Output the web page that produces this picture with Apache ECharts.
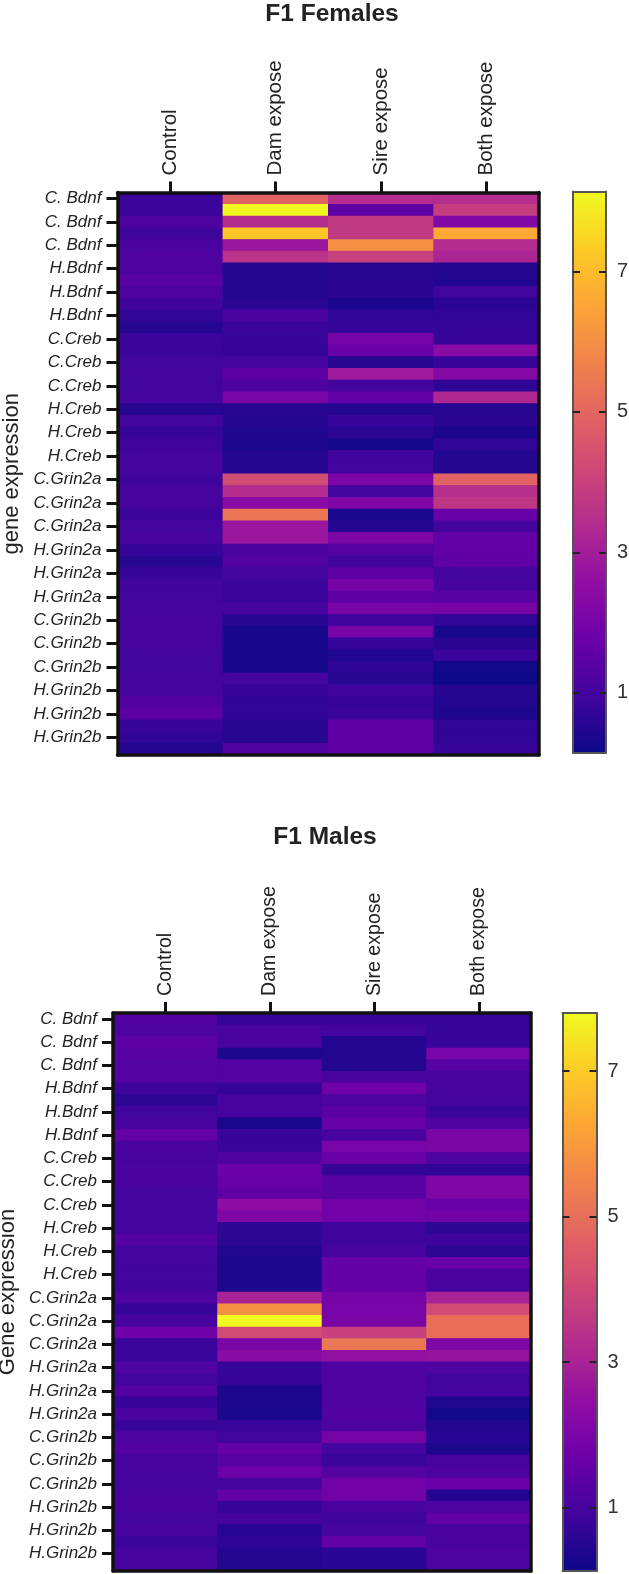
<!DOCTYPE html>
<html><head><meta charset="utf-8">
<style>html,body{margin:0;padding:0;background:#fff}#c{width:629px;height:1574px;filter:blur(0.6px)}</style>
<script src="https://cdn.jsdelivr.net/npm/echarts@6/dist/echarts.min.js"></script>
</head><body><div id="c"></div>
<script>
const groups = ['Control','Dam expose','Sire expose','Both expose'];
const genes = [
 'C. Bdnf','C. Bdnf','C. Bdnf','C. Bdnf','C. Bdnf','C. Bdnf',
 'H.Bdnf','H.Bdnf','H.Bdnf','H.Bdnf','H.Bdnf','H.Bdnf',
 'C.Creb','C.Creb','C.Creb','C.Creb','C.Creb','C.Creb',
 'H.Creb','H.Creb','H.Creb','H.Creb','H.Creb','H.Creb',
 'C.Grin2a','C.Grin2a','C.Grin2a','C.Grin2a','C.Grin2a','C.Grin2a',
 'H.Grin2a','H.Grin2a','H.Grin2a','H.Grin2a','H.Grin2a','H.Grin2a',
 'C.Grin2b','C.Grin2b','C.Grin2b','C.Grin2b','C.Grin2b','C.Grin2b',
 'H.Grin2b','H.Grin2b','H.Grin2b','H.Grin2b','H.Grin2b','H.Grin2b'];
const colorbarTicks = [1,3,5,7];
const femaleRange = [0.15,8.14];
const maleRange = [0.13,7.8];
const plasma = ['#0d0887','#41049d','#6a00a8','#8f0da4','#b12a90','#cc4778','#e16462','#f1844b','#fca636','#fccd25','#f0f921'];

const femaleControl = [.85,.85,1.2,.9,1.15,1.2,1.2,1.4,1.2,.95,.7,.55,.85,.85,.95,1.0,.95,1.0,.55,.95,.8,.9,1.0,1.0,
 .9,1.05,1.05,.85,1.0,1.05,.8,.55,.8,.95,.95,1.0,1.05,1.05,1.05,.95,.95,1.0,1.0,1.3,1.45,.8,.7,.5];
const femaleDam = [4.9,8.1,3.4,7.2,2.8,3.6,.45,.45,.5,.6,1.15,.85,.8,.75,1.0,1.5,1.2,2.05,.55,.5,.45,.4,.5,.5,
 4.3,3.4,2.4,5.4,2.8,2.8,1.1,1.3,1.0,.85,.85,1.05,.55,.3,.3,.3,.3,1.0,.75,.7,.7,.55,.55,1.25];
const femaleSire = [3.4,1.55,3.8,3.8,6.0,4.0,.55,.6,.6,.35,.7,.75,2.0,1.7,.55,2.9,1.0,1.6,.5,.8,.6,.25,.95,.95,
 2.15,.95,2.2,.35,.5,2.1,1.35,.95,1.5,2.0,1.5,2.0,.9,2.0,.75,.45,.65,.55,.9,.75,.85,1.55,1.55,1.55];
const femaleBoth = [3.4,3.9,2.25,6.6,3.4,3.2,.45,.45,.95,.6,.7,.75,.75,2.4,.8,2.3,.65,3.3,.55,.6,.35,.7,.5,.5,
 4.9,3.5,3.7,1.7,1.0,1.6,1.6,1.55,1.0,1.05,1.4,2.0,.7,.3,.6,.85,.2,.15,.5,.45,.4,.7,.7,.8];

const maleControl = [1.2,1.1,1.4,1.35,1.25,1.25,.85,.6,.9,1.0,1.55,1.05,1.0,1.05,1.05,.95,.95,.95,.95,1.25,.95,.9,.9,.9,
 1.1,.7,1.0,1.75,.8,.8,1.15,.9,1.2,.75,1.05,.75,1.1,1.2,1.0,1.0,.95,1.05,1.05,.95,1.0,.8,1.0,1.0];
const maleDam = [.7,1.05,1.05,.35,1.25,1.25,.7,1.0,1.0,.3,.75,.8,1.15,1.7,1.6,1.45,2.4,2.1,.6,.6,.45,.35,.35,.35,
 3.0,5.8,7.8,4.1,2.0,2.3,.75,.75,.35,.35,.3,.8,.9,1.55,1.3,1.7,.95,1.5,.7,1.0,.5,.65,.45,.45];
const maleSire = [.7,.95,.45,.45,.45,1.0,1.75,1.1,1.4,1.6,1.05,1.95,1.65,.7,1.35,1.35,1.8,1.8,.85,.85,1.0,1.55,1.55,1.55,
 1.9,1.95,2.0,3.8,5.2,2.5,1.15,1.15,1.15,1.15,1.2,1.1,1.9,.95,.8,1.25,1.8,1.8,1.05,.85,.95,1.5,.55,.55];
const maleBoth = [.7,.75,.75,1.95,1.35,1.0,1.0,.95,.8,1.15,2.0,2.0,1.15,.65,2.1,2.1,1.6,1.8,.6,.85,.6,1.65,1.05,1.0,
 3.0,4.1,5.0,5.0,2.1,2.6,1.15,.9,.95,.4,.2,.45,.5,.35,1.0,1.1,1.65,.45,1.1,1.5,1.05,1.05,1.1,1.1];

const FONT = '"Liberation Sans", Arial, sans-serif';
const panels = [
 {title:'F1 Females',titleX:327,titleY:-3,name:'gene expression',nameGap:106,labelSize:20.5,
  grid:{left:117.5,top:192.5,width:421.5,height:562.5},bar:{left:573,top:191.5,width:33,height:561},
  range:femaleRange,cols:[femaleControl,femaleDam,femaleSire,femaleBoth]},
 {title:'F1 Males',titleX:320,titleY:820,name:'Gene expression',nameGap:105,labelSize:19.6,
  grid:{left:113,top:1013,width:418,height:558},bar:{left:562.5,top:1013,width:34,height:558},
  range:maleRange,cols:[maleControl,maleDam,maleSire,maleBoth]}
];

const grids=[],xAxes=[],yAxes=[],series=[],titles=[],vms=[];
const DARK='#111';
const frameX=(gi,pos,color,w)=>({type:'category',gridIndex:gi,position:pos,z:5,data:['x'],axisLine:{show:true,onZero:false,lineStyle:{color,width:w}},axisTick:{show:false},axisLabel:{show:false},splitLine:{show:false}});
panels.forEach(p=>{
  const gi=grids.length;
  grids.push(Object.assign({show:true,backgroundColor:'#41049d',borderWidth:0,containLabel:false,outerBoundsMode:'none'},p.grid));
  titles.push({text:p.title,left:p.titleX,top:p.titleY,textAlign:'center',textStyle:{fontFamily:FONT,fontSize:24.5,fontWeight:'bold',color:'#222'}});
  const xi=xAxes.length, yi=yAxes.length;
  xAxes.push({type:'category',gridIndex:gi,position:'top',z:5,data:groups,
    axisLine:{show:true,onZero:false,lineStyle:{color:DARK,width:3.5}},
    axisTick:{show:true,alignWithLabel:true,length:11,lineStyle:{color:DARK,width:3}},
    axisLabel:{show:true,rotate:-90,margin:17,interval:0,fontFamily:FONT,fontSize:p.labelSize,color:'#222',align:'left',verticalAlign:'middle'},splitLine:{show:false}});
  xAxes.push(frameX(gi,'bottom',DARK,3.5));
  yAxes.push({type:'category',gridIndex:gi,position:'left',inverse:true,z:5,data:genes,
    name:p.name,nameLocation:'middle',nameGap:p.nameGap,nameRotate:90,nameMoveOverlap:false,nameTextStyle:{fontFamily:FONT,fontSize:22,color:'#222',verticalAlign:'middle'},
    axisLine:{show:true,onZero:false,lineStyle:{color:DARK,width:3.5}},
    axisTick:{show:true,alignWithLabel:true,interval:1,length:11,lineStyle:{color:DARK,width:3}},
    axisLabel:{show:true,interval:1,margin:16,fontFamily:FONT,fontStyle:'italic',fontSize:17,color:'#222'},splitLine:{show:false}});
  yAxes.push({type:'category',gridIndex:gi,position:'right',inverse:true,z:5,data:genes,
    axisLine:{show:true,onZero:false,lineStyle:{color:DARK,width:3.5}},axisTick:{show:false},axisLabel:{show:false},splitLine:{show:false}});
  const data=[];
  p.cols.forEach((col,c)=>col.forEach((v,r)=>data.push([c,r,v])));
  vms.push({type:'continuous',show:false,min:p.range[0],max:p.range[1],seriesIndex:series.length,inRange:{color:plasma}});
  series.push({type:'heatmap',xAxisIndex:xi,yAxisIndex:yi,data,silent:true,progressive:0,itemStyle:{borderWidth:0},emphasis:{disabled:true}});

  // colour bar
  const bi=grids.length;
  grids.push(Object.assign({containLabel:false,outerBoundsMode:'none'},p.bar));
  const bx=xAxes.length, by=yAxes.length;
  const GREY='#555';
  xAxes.push(frameX(bi,'bottom',GREY,2));
  xAxes.push(frameX(bi,'top',GREY,2));
  const valAxis=(pos,label)=>({type:'value',gridIndex:bi,position:pos,z:5,min:p.range[0],max:p.range[1],
    axisLine:{show:true,onZero:false,lineStyle:{color:GREY,width:2}},
    axisTick:{show:true,inside:true,length:7,customValues:colorbarTicks,lineStyle:{color:'#222',width:2}},
    axisLabel:{show:label,margin:11,customValues:colorbarTicks,fontFamily:FONT,fontSize:20,color:'#333'},splitLine:{show:false}});
  yAxes.push(valAxis('right',true));
  yAxes.push(valAxis('left',false));
  series.push({type:'bar',xAxisIndex:bx,yAxisIndex:by,data:[p.range[1]],barWidth:'100%',silent:true,
    itemStyle:{color:new echarts.graphic.LinearGradient(0,1,0,0,plasma.map((c,i)=>({offset:i/(plasma.length-1),color:c})))}});
});
const chart=echarts.init(document.getElementById('c'),null,{renderer:'canvas'});
chart.setOption({animation:false,backgroundColor:'#fff',title:titles,grid:grids,xAxis:xAxes,yAxis:yAxes,visualMap:vms,series,tooltip:{show:false}});
</script></body></html>
